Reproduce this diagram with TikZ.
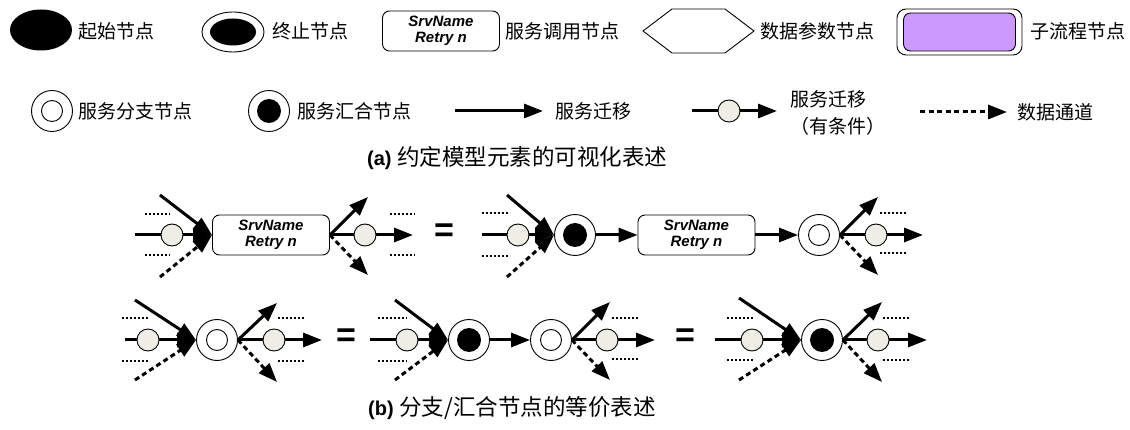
\documentclass[tikz,border=0pt]{standalone}
\usepackage{fontspec}
\setmainfont{Liberation Sans}
\newfontfamily\cjk{Noto Sans CJK SC}
\usetikzlibrary{arrows.meta,shapes.geometric}
\definecolor{condfill}{RGB}{238,238,230}
\definecolor{subfill}{RGB}{204,153,255}
\begin{document}
\begin{tikzpicture}[x=1pt,y=-1pt,
  lbl/.style={anchor=west,inner sep=0pt,font=\cjk\fontsize{19}{27}\selectfont,align=left},
  captext/.style={anchor=west,inner sep=0pt},
  flow/.style={line width=3pt,-{Triangle[length=19pt,width=14pt]}},
  dataflow/.style={flow,dash pattern=on 5pt off 3.5pt},
  link/.style={line width=3pt},
  dots/.style={line width=1.7pt,dash pattern=on 1.7pt off 2.3pt},
  cond/.style={circle,draw,line width=0.9pt,fill=condfill,minimum size=22pt,inner sep=0pt},
  branchnode/.style={circle,draw,line width=0.9pt,fill=white,minimum size=41pt,inner sep=0pt,
    path picture={\draw[black,line width=0.9pt] (path picture bounding box.center) circle[radius=10.5pt];}},
  joinnode/.style={circle,draw,line width=0.9pt,fill=white,minimum size=41pt,inner sep=0pt,
    path picture={\fill[black] (path picture bounding box.center) circle[radius=12pt];}},
  svcbox/.style={rectangle,draw,line width=0.9pt,rounded corners=7pt,minimum width=117pt,
    minimum height=40pt,inner sep=0pt,align=center,fill=white,
    font=\bfseries\itshape\fontsize{15}{16}\selectfont},
  eqsign/.style={inner sep=0pt,font=\bfseries\fontsize{34}{34}\selectfont},
]
\useasboundingbox (0,0) rectangle (1130,430);

% ---------- legend, first row ----------
\node[ellipse,fill=black,minimum width=62pt,minimum height=41pt,inner sep=0pt] (start) at (41,30) {};
\node[lbl] (startl) at (78,31) {起始节点};

\node[ellipse,draw,line width=0.9pt,minimum width=62pt,minimum height=40pt,inner sep=0pt,
  path picture={\fill[black] (path picture bounding box.center) ellipse[x radius=23pt,y radius=13.5pt];}] (final) at (233,32) {};
\node[lbl] (finall) at (272,31) {终止节点};

\node[svcbox] (svc) at (441,31) {SrvName\\Retry n};
\node[lbl] (svcl) at (505,31) {服务调用节点};

\draw[line width=0.9pt] (643,31) -- (672,9) -- (725,9) -- (754,31) -- (725,53) -- (672,53) -- cycle;
\node[lbl] (datal) at (760,31) {数据参数节点};

\node[rectangle,draw,line width=0.9pt,rounded corners=9pt,minimum width=125pt,minimum height=46pt] (sub) at (959.5,32) {};
\node[rectangle,draw,line width=0.9pt,rounded corners=7pt,fill=subfill,minimum width=112pt,minimum height=38pt] (subin) at (959.5,32) {};
\node[lbl] (subl) at (1030,31) {子流程节点};

% ---------- legend, second row ----------
\node[branchnode] (lbr) at (52,111) {};
\node[lbl] (lbrl) at (78,111) {服务分支节点};
\node[joinnode] (ljn) at (269,111) {};
\node[lbl] (ljnl) at (297,111) {服务汇合节点};

\coordinate (tra) at (455,111);
\coordinate (trb) at (543,111);
\draw[flow] (tra) -- (trb);
\node[lbl] (trl) at (555,111) {服务迁移};

\coordinate (cta) at (692,111);
\coordinate (ctb) at (777,111);
\node[cond] (ctc) at (729,111) {};
\draw[link] (cta) -- (ctc);
\draw[flow] (ctc) -- (ctb);
\node[lbl] (ctl) at (790,113) {服务迁移\\（有条件）};

\coordinate (dca) at (920,112);
\coordinate (dcb) at (1007,112);
\draw[dataflow] (dca) -- (dcb);
\node[lbl] (dcl) at (1017,112) {数据通道};

\node[captext] (capa) at (367,158) {\bfseries\fontsize{20}{22}\selectfont(a) \cjk\mdseries\fontsize{22.5}{24}\selectfont 约定模型元素的可视化表述};

% ---------- (b) row 1: service node ----------
\node[svcbox] (b1) at (271,235) {SrvName\\Retry n};
\coordinate (b1s) at (135,235);
\node[cond] (b1c) at (172,235) {};
\coordinate (b1t) at (160,195);
\coordinate (b1d) at (160,277);
\draw[dots] (145,214) -- (170,214);
\draw[dots] (145,255) -- (170,255);
\draw[link] (b1s) -- (b1c);
\draw[flow] (b1c) -- (b1.west);
\draw[flow] (b1t) -- (b1.west);
\draw[dataflow] (b1d) -- (b1.west);
\node[cond] (b1oc) at (365,235) {};
\coordinate (b1oe) at (413,235);
\coordinate (b1ot) at (368,197);
\coordinate (b1od) at (368,275);
\draw[link] (b1.east) -- (b1oc);
\draw[flow] (b1oc) -- (b1oe);
\draw[flow] (b1.east) -- (b1ot);
\draw[dataflow] (b1.east) -- (b1od);
\draw[dots] (390,214) -- (415,214);
\draw[dots] (390,255) -- (415,255);

\node[eqsign] (eq1) at (444,233) {=};

% join -> service -> branch
\coordinate (b2s) at (482,235);
\node[cond] (b2c) at (518,235) {};
\coordinate (b2t) at (507,195);
\coordinate (b2d) at (507,277);
\draw[dots] (482,213) -- (510,213);
\draw[dots] (482,256) -- (510,256);
\node[joinnode] (j1) at (575,235) {};
\draw[link] (b2s) -- (b2c);
\draw[flow] (b2c) -- (j1.west);
\draw[flow] (b2t) -- (j1.west);
\draw[dataflow] (b2d) -- (j1.west);
\node[svcbox] (b2) at (696.5,235) {SrvName\\Retry n};
\draw[flow] (j1.east) -- (b2.west);
\node[branchnode] (br1) at (819,235) {};
\draw[flow] (b2.east) -- (br1.west);
\node[cond] (b2oc) at (876,235) {};
\coordinate (b2oe) at (923,235);
\coordinate (b2ot) at (878,197);
\coordinate (b2od) at (878,275);
\draw[link] (br1.east) -- (b2oc);
\draw[flow] (b2oc) -- (b2oe);
\draw[flow] (br1.east) -- (b2ot);
\draw[dataflow] (br1.east) -- (b2od);
\draw[dots] (880,213) -- (907,213);
\draw[dots] (880,253) -- (907,253);

% ---------- (b) row 2: branch / join node ----------
\node[branchnode] (br2) at (217,340) {};
\coordinate (r1s) at (125,340);
\node[cond] (r1c) at (148,340) {};
\coordinate (r1t) at (135,300);
\coordinate (r1d) at (135,380);
\draw[dots] (122,318) -- (148,318);
\draw[dots] (122,361) -- (148,361);
\draw[link] (r1s) -- (r1c);
\draw[flow] (r1c) -- (br2.west);
\draw[flow] (r1t) -- (br2.west);
\draw[dataflow] (r1d) -- (br2.west);
\node[cond] (r1oc) at (274,340) {};
\coordinate (r1oe) at (322,340);
\coordinate (r1ot) at (277,303);
\coordinate (r1od) at (277,382);
\draw[link] (br2.east) -- (r1oc);
\draw[flow] (r1oc) -- (r1oe);
\draw[flow] (br2.east) -- (r1ot);
\draw[dataflow] (br2.east) -- (r1od);
\draw[dots] (278,318) -- (305,318);
\draw[dots] (278,361) -- (305,361);

\node[eqsign] (eq2) at (346,338) {=};

\node[joinnode] (j2) at (469,340) {};
\coordinate (r2s) at (370,340);
\node[cond] (r2c) at (407,340) {};
\coordinate (r2t) at (395,300);
\coordinate (r2d) at (395,380);
\draw[dots] (378,318) -- (407,318);
\draw[dots] (378,361) -- (407,361);
\draw[link] (r2s) -- (r2c);
\draw[flow] (r2c) -- (j2.west);
\draw[flow] (r2t) -- (j2.west);
\draw[dataflow] (r2d) -- (j2.west);
\node[branchnode] (br3) at (551,340) {};
\draw[flow] (j2.east) -- (br3.west);
\node[cond] (r2oc) at (607,340) {};
\coordinate (r2oe) at (655,340);
\coordinate (r2ot) at (610,302);
\coordinate (r2od) at (610,380);
\draw[link] (br3.east) -- (r2oc);
\draw[flow] (r2oc) -- (r2oe);
\draw[flow] (br3.east) -- (r2ot);
\draw[dataflow] (br3.east) -- (r2od);
\draw[dots] (612,318) -- (638,318);
\draw[dots] (612,359) -- (638,359);

\node[eqsign] (eq3) at (685,338) {=};

\node[joinnode] (j3) at (822,340) {};
\coordinate (r3s) at (715,340);
\node[cond] (r3c) at (752,340) {};
\coordinate (r3t) at (739,298);
\coordinate (r3d) at (739,380);
\draw[dots] (727,318) -- (753,318);
\draw[dots] (727,360) -- (753,360);
\draw[link] (r3s) -- (r3c);
\draw[flow] (r3c) -- (j3.west);
\draw[flow] (r3t) -- (j3.west);
\draw[dataflow] (r3d) -- (j3.west);
\node[cond] (r3oc) at (878,340) {};
\coordinate (r3oe) at (927,340);
\coordinate (r3ot) at (882,302);
\coordinate (r3od) at (882,382);
\draw[link] (j3.east) -- (r3oc);
\draw[flow] (r3oc) -- (r3oe);
\draw[flow] (j3.east) -- (r3ot);
\draw[dataflow] (j3.east) -- (r3od);
\draw[dots] (883,318) -- (910,318);
\draw[dots] (883,360) -- (910,360);

\node[captext] (capb) at (368,408) {\bfseries\fontsize{20}{22}\selectfont(b) \cjk\mdseries\fontsize{22.5}{24}\selectfont 分支/汇合节点的等价表述};
\end{tikzpicture}
\end{document}
